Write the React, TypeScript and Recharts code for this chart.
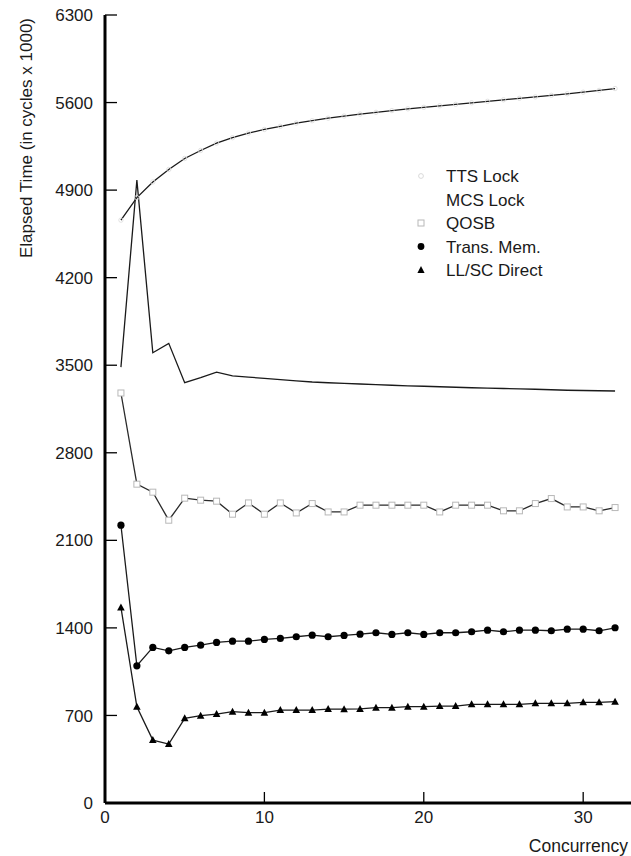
import React from "react";
import { LineChart, Line, XAxis, YAxis } from "recharts";

const concurrency = [1, 2, 3, 4, 5, 6, 7, 8, 9, 10, 11, 12, 13, 14, 15, 16, 17, 18, 19, 20, 21, 22, 23, 24, 25, 26, 27, 28, 29, 30, 31, 32];
const ttsLock = [4660, 4840, 4965, 5065, 5153, 5217, 5276, 5319, 5356, 5385, 5410, 5436, 5455, 5475, 5492, 5508, 5522, 5536, 5550, 5562, 5574, 5586, 5598, 5610, 5622, 5634, 5645, 5658, 5670, 5683, 5697, 5712];
const mcsLock = [3485, 4980, 3600, 3675, 3360, 3400, 3445, 3415, 3405, 3395, 3385, 3375, 3366, 3360, 3355, 3350, 3345, 3340, 3335, 3332, 3328, 3324, 3320, 3317, 3314, 3311, 3308, 3304, 3300, 3298, 3296, 3294];
const qosb = [3278, 2549, 2485, 2261, 2437, 2421, 2413, 2309, 2399, 2309, 2399, 2319, 2394, 2327, 2327, 2381, 2381, 2381, 2381, 2381, 2327, 2381, 2381, 2381, 2336, 2336, 2394, 2434, 2367, 2367, 2336, 2362];
const transMem = [2221, 1097, 1244, 1217, 1244, 1262, 1284, 1294, 1294, 1308, 1316, 1329, 1342, 1329, 1340, 1350, 1361, 1348, 1361, 1348, 1361, 1361, 1369, 1382, 1369, 1382, 1382, 1377, 1390, 1390, 1377, 1401];
const llscDirect = [1564, 769, 503, 471, 677, 698, 711, 730, 722, 722, 743, 743, 743, 751, 750, 752, 762, 762, 770, 770, 775, 775, 789, 789, 789, 789, 797, 797, 797, 805, 805, 810];

const seriesNames = ["TTS Lock", "MCS Lock", "QOSB", "Trans. Mem.", "LL/SC Direct"];
const xTicks = [0, 10, 20, 30];
const yTicks = [0, 700, 1400, 2100, 2800, 3500, 4200, 4900, 5600, 6300];

const data = concurrency.map((c, i) => ({
  c,
  tts: ttsLock[i],
  mcs: mcsLock[i],
  qosb: qosb[i],
  tm: transMem[i],
  ll: llscDirect[i],
}));

const FONT = "'Liberation Sans', Arial, Helvetica, sans-serif";
const TEXT = "#1a1a1a";

const circleDot = (p: any) => (
  <circle key={`tm-${p.index}`} cx={p.cx} cy={p.cy} r={3.6} fill="#000" stroke="none" />
);
const smallCircleDot = (p: any) => (
  <circle key={`tts-${p.index}`} cx={p.cx} cy={p.cy} r={2.2} fill="none" stroke="#dcdcdc" strokeWidth={0.8} />
);
const squareDot = (p: any) => (
  <rect key={`q-${p.index}`} x={p.cx - 3} y={p.cy - 3} width={6} height={6} fill="#fff" stroke="#b8b8b8" strokeWidth={1} />
);
const triDot = (p: any) => (
  <path key={`ll-${p.index}`} d={`M${p.cx},${p.cy - 4} L${p.cx + 3.8},${p.cy + 3} L${p.cx - 3.8},${p.cy + 3} Z`} fill="#000" />
);

const YTick = (props: any) => {
  const { x, y, payload } = props;
  return (
    <g>
      <line x1={x} y1={y} x2={x + 12} y2={y} stroke="#000" strokeWidth={1.3} />
      <text x={x - 12} y={y} dy="0.36em" textAnchor="end" fontSize={17} fontFamily={FONT} fill={TEXT}>
        {payload.value}
      </text>
    </g>
  );
};

const XTick = (props: any) => {
  const { x, y, payload } = props;
  return (
    <g>
      {payload.value !== 0 && <line x1={x} y1={y} x2={x} y2={y - 11} stroke="#000" strokeWidth={1.3} />}
      <text x={x} y={y} dy={20} textAnchor="middle" fontSize={17} fontFamily={FONT} fill={TEXT}>
        {payload.value}
      </text>
    </g>
  );
};

const LegendBox = () => {
  const markers = [
    <circle cx={10} cy={0} r={2.4} fill="none" stroke="#d0d0d0" strokeWidth={0.8} />,
    null,
    <rect x={7} y={-3} width={6} height={6} fill="#fff" stroke="#b8b8b8" strokeWidth={1} />,
    <circle cx={10} cy={0} r={3.4} fill="#000" />,
    <path d="M10,-4 L13.6,3 L6.4,3 Z" fill="#000" />,
  ];
  return (
    <svg
      width={200}
      height={130}
      style={{ position: "absolute", left: 411, top: 164, overflow: "visible" }}
    >
      {seriesNames.map((n, i) => (
        <g key={n} transform={`translate(0, ${12 + i * 23.5})`}>
          {markers[i]}
          <text x={35} y={0} dy="0.36em" fontSize={17} fontFamily={FONT} fill={TEXT}>
            {n}
          </text>
        </g>
      ))}
    </svg>
  );
};

export default function App() {
  return (
    <div style={{ position: "absolute", left: 0, top: 0, width: 631, height: 856, background: "#fff" }}>
      <LineChart width={631} height={856} data={data} margin={{ top: 15, right: 0, bottom: 0, left: 0 }}>
        <XAxis
          dataKey="c"
          type="number"
          domain={[0, 33]}
          ticks={xTicks}
          height={53}
          tickLine={false}
          tickSize={0}
          tickMargin={0}
          tick={<XTick />}
          axisLine={{ stroke: "#000", strokeWidth: 3 }}
          label={{
            content: () => (
              <text x={628} y={846} dy="0.36em" textAnchor="end" fontSize={17.5} fontFamily={FONT} fill={TEXT}>
                Concurrency
              </text>
            ),
          }}
        />
        <YAxis
          type="number"
          domain={[0, 6300]}
          ticks={yTicks}
          width={105}
          tickLine={false}
          tickSize={0}
          tickMargin={0}
          tick={<YTick />}
          interval={0}
          axisLine={{ stroke: "#000", strokeWidth: 3 }}
          label={{
            content: () => (
              <text
                x={26}
                y={138}
                dy="0.36em"
                textAnchor="middle"
                fontSize={17}
                fontFamily={FONT}
                fill={TEXT}
                transform="rotate(-90, 26, 138)"
              >
                Elapsed Time (in cycles x 1000)
              </text>
            ),
          }}
        />
        <Line dataKey="tts" name="TTS Lock" stroke="#1a1a1a" strokeWidth={1.3} dot={smallCircleDot} isAnimationActive={false} />
        <Line dataKey="mcs" name="MCS Lock" stroke="#1a1a1a" strokeWidth={1.3} dot={false} isAnimationActive={false} />
        <Line dataKey="qosb" name="QOSB" stroke="#2a2a2a" strokeWidth={1.3} dot={squareDot} isAnimationActive={false} />
        <Line dataKey="tm" name="Trans. Mem." stroke="#1a1a1a" strokeWidth={1.3} dot={circleDot} isAnimationActive={false} />
        <Line dataKey="ll" name="LL/SC Direct" stroke="#1a1a1a" strokeWidth={1.3} dot={triDot} isAnimationActive={false} />
      </LineChart>
      <LegendBox />
    </div>
  );
}
